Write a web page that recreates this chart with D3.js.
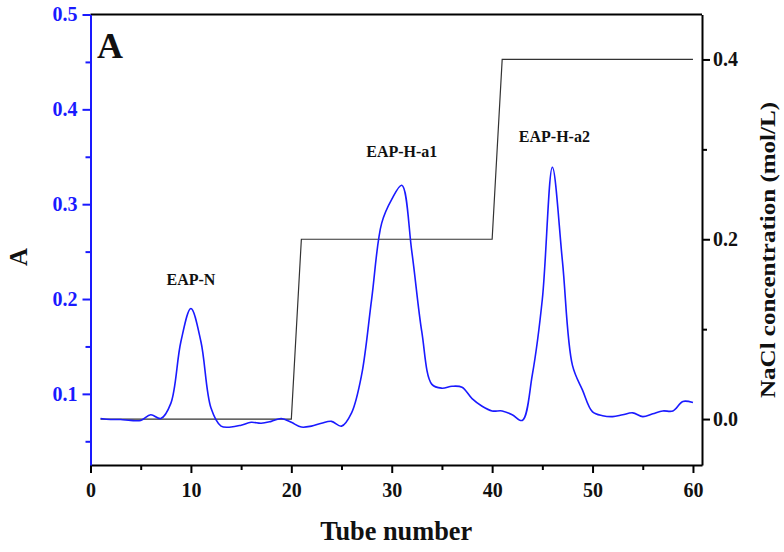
<!DOCTYPE html>
<html><head><meta charset="utf-8">
<script src="https://cdn.jsdelivr.net/npm/d3@7/dist/d3.min.js"></script>
<style>body{margin:0;background:#fff}svg{display:block}</style>
</head><body><svg id="c" width="784" height="552"></svg>
<script>
const tubes = d3.range(1, 61);
const absorbance = [0.074,0.073,0.073,0.072,0.072,0.078,0.074,0.090,0.155,0.190,
  0.155,0.085,0.066,0.065,0.067,0.070,0.069,0.071,0.074,0.070,
  0.065,0.066,0.069,0.071,0.066,0.080,0.120,0.200,0.280,0.305,
  0.320,0.250,0.165,0.110,0.106,0.108,0.107,0.095,0.087,0.082,
  0.082,0.078,0.072,0.120,0.200,0.339,0.240,0.130,0.104,0.081,
  0.077,0.076,0.078,0.080,0.076,0.079,0.082,0.082,0.092,0.091];
const naclTube = [1, 20, 21, 40, 41, 60];
const naclConc = [0, 0, 0.2, 0.2, 0.4, 0.4];
const xTicks = [0,10,20,30,40,50,60];
const leftTicks = [0.1,0.2,0.3,0.4,0.5];
const rightTicks = [0.0,0.2,0.4];
const peakLabels = ["EAP-N","EAP-H-a1","EAP-H-a2"];
const peakTube = [10, 31, 46.2];
const peakY = [0.215, 0.35, 0.366];

const svg = d3.select("#c");
const L=90.5, R=702, T=14.5, B=465;
const x = d3.scaleLinear().domain([0,60.9]).range([L,R]);
const yl = d3.scaleLinear().domain([0.025,0.5]).range([B,T]);
const yr = d3.scaleLinear().domain([-0.0511,0.45]).range([B,T]);
const font = "'Liberation Serif','Times New Roman',serif";
const blue = "#1a1aff";

// frame top
svg.append("line").attr("x1",L).attr("x2",R).attr("y1",T).attr("y2",T).attr("stroke","#000").attr("stroke-width",2);

// bottom axis
const gx = svg.append("g").attr("transform",`translate(0,${B})`)
  .call(d3.axisBottom(x).tickValues(xTicks).tickFormat(d3.format("d")).tickSize(8).tickSizeOuter(0));
gx.select(".domain").attr("stroke","#000").attr("stroke-width",2);
gx.selectAll(".tick line").attr("stroke-width",2);
gx.selectAll("text").attr("font-family",font).attr("font-weight","bold").attr("font-size",20).attr("fill","#111").attr("dy","1.05em");
svg.append("g").attr("transform",`translate(0,${B})`)
  .call(d3.axisBottom(x).tickValues([5,15,25,35,45,55]).tickFormat("").tickSize(5).tickSizeOuter(0))
  .call(g=>{g.select(".domain").remove();g.selectAll("line").attr("stroke-width",2);});

// left axis
const gl = svg.append("g").attr("transform",`translate(${L},0)`)
  .call(d3.axisLeft(yl).tickValues(leftTicks).tickFormat(d3.format(".1f")).tickSize(8).tickSizeOuter(0));
gl.select(".domain").attr("stroke",blue).attr("stroke-width",2);
gl.selectAll(".tick line").attr("stroke",blue).attr("stroke-width",2);
gl.selectAll("text").attr("font-family",font).attr("font-weight","bold").attr("font-size",20).attr("fill",blue).attr("dx","-0.1em");
svg.append("g").attr("transform",`translate(${L},0)`)
  .call(d3.axisLeft(yl).tickValues([0.05,0.15,0.25,0.35,0.45]).tickFormat("").tickSize(5).tickSizeOuter(0))
  .call(g=>{g.select(".domain").remove();g.selectAll("line").attr("stroke",blue).attr("stroke-width",2);});

// right axis
const gr = svg.append("g").attr("transform",`translate(${R},0)`)
  .call(d3.axisRight(yr).tickValues(rightTicks).tickFormat(d3.format(".1f")).tickSize(8).tickSizeOuter(0));
gr.select(".domain").attr("stroke","#000").attr("stroke-width",2);
gr.selectAll(".tick line").attr("stroke-width",2);
gr.selectAll("text").attr("font-family",font).attr("font-weight","bold").attr("font-size",20).attr("fill","#111");
svg.append("g").attr("transform",`translate(${R},0)`)
  .call(d3.axisRight(yr).tickValues([0.1,0.3]).tickFormat("").tickSize(5).tickSizeOuter(0))
  .call(g=>{g.select(".domain").remove();g.selectAll("line").attr("stroke-width",2);});

// NaCl step line
svg.append("path").datum(naclTube.map((t,i)=>[t,naclConc[i]]))
  .attr("d",d3.line().x(d=>x(d[0])).y(d=>yr(d[1])))
  .attr("fill","none").attr("stroke","#333").attr("stroke-width",1.2);

// absorbance curve
svg.append("path").datum(tubes.map((t,i)=>[t,absorbance[i]]))
  .attr("d",d3.line().x(d=>x(d[0])).y(d=>yl(d[1])).curve(d3.curveCatmullRom.alpha(0.5)))
  .attr("fill","none").attr("stroke",blue).attr("stroke-width",1.6);

// peak labels
svg.selectAll(".pl").data(peakLabels).enter().append("text")
  .attr("x",(d,i)=>x(peakTube[i])).attr("y",(d,i)=>yl(peakY[i]))
  .attr("text-anchor","middle").attr("font-family",font).attr("font-weight","bold")
  .attr("font-size",16).attr("fill","#111").text(d=>d);

// panel letter
svg.append("text").attr("x",97).attr("y",58).attr("font-family",font).attr("font-weight","bold")
  .attr("font-size",36).attr("fill","#111").text("A");

// axis titles
svg.append("text").attr("x",(L+R)/2).attr("y",540).attr("text-anchor","middle")
  .attr("font-family",font).attr("font-weight","bold").attr("font-size",27)
  .attr("textLength",152).attr("lengthAdjust","spacingAndGlyphs").attr("fill","#111").text("Tube number");
svg.append("text").attr("transform","translate(27,257) rotate(-90)").attr("text-anchor","middle")
  .attr("font-family",font).attr("font-weight","bold").attr("font-size",25).attr("fill","#111").text("A");
svg.append("text").attr("transform","translate(775,250) rotate(-90)").attr("text-anchor","middle")
  .attr("font-family",font).attr("font-weight","bold").attr("font-size",21)
  .attr("textLength",296).attr("lengthAdjust","spacingAndGlyphs").attr("fill","#111").text("NaCl concentration (mol/L)");
</script></body></html>
